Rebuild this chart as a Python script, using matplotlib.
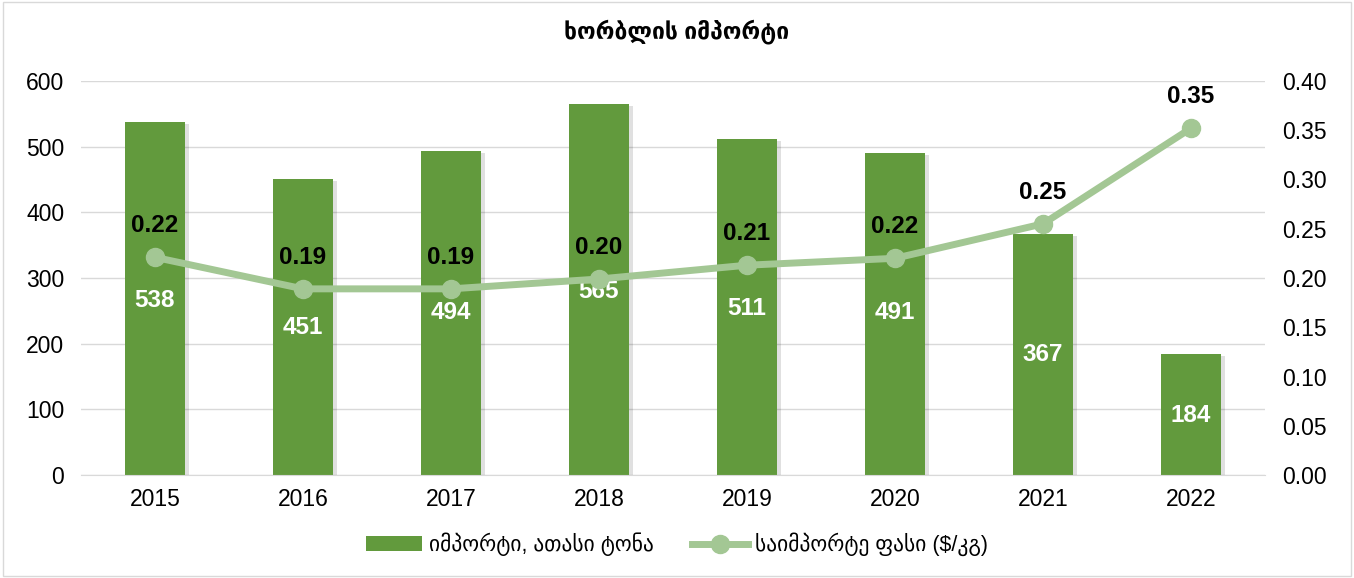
import matplotlib
matplotlib.use("Agg")
import matplotlib.pyplot as plt
import matplotlib.patheffects as pe
from matplotlib.lines import Line2D
from matplotlib.patches import Patch, Rectangle

years = ["2015", "2016", "2017", "2018", "2019", "2020", "2021", "2022"]
imports_kt = [538, 451, 494, 565, 511, 491, 367, 184]
price = [0.221, 0.189, 0.189, 0.199, 0.213, 0.220, 0.255, 0.352]
price_labels = ["0.22", "0.19", "0.19", "0.20", "0.21", "0.22", "0.25", "0.35"]
left_ticks = [0, 100, 200, 300, 400, 500, 600]
right_ticks = [0.0, 0.05, 0.10, 0.15, 0.20, 0.25, 0.30, 0.35, 0.40]

title = "ხორბლის იმპორტი"
bar_name = "იმპორტი, ათასი ტონა"
line_name = "საიმპორტე ფასი ($/კგ)"

bar_color = "#629A3D"
line_color = "#A3C794"

plt.rcParams["font.family"] = ["Liberation Sans", "DejaVu Sans"]

fig = plt.figure(figsize=(13.54, 5.78), dpi=100)
fig.patches.append(Rectangle((0.002, 0.003), 0.996, 0.994, transform=fig.transFigure,
                             fill=False, edgecolor="#D9D9D9", linewidth=1))
ax = fig.add_axes([0.0598, 0.178, 0.8745, 0.682])
ax2 = ax.twinx()

x = list(range(len(years)))
shadow = [pe.SimplePatchShadow(offset=(2.5, -1.5), shadow_rgbFace="#000000", alpha=0.12), pe.Normal()]
bars = ax.bar(x, imports_kt, width=0.41, color=bar_color, zorder=2)
for b in bars:
    b.set_path_effects(shadow)

ax.set_ylim(0, 600)
ax.set_yticks(left_ticks)
ax.set_xlim(-0.5, len(years) - 0.5)
ax.set_xticks(x)
ax.set_xticklabels(years)
ax.grid(axis="y", color="#D9D9D9", linewidth=1, zorder=0)
ax.set_axisbelow(True)
for s in ["top", "right", "left"]:
    ax.spines[s].set_visible(False)
ax.spines["bottom"].set_color("#D9D9D9")
ax.tick_params(axis="x", length=0, labelsize=16.5, colors="black", pad=9)
ax.tick_params(axis="y", length=0, labelsize=16.5, colors="black", pad=12)

bar_label_pos = [266, 225, 248, 280, 254, 247, 183, 91]
for xi, v, yp in zip(x, imports_kt, bar_label_pos):
    ax.text(xi, yp, str(v), ha="center", va="center", color="white",
            fontsize=17.5, fontweight="bold", zorder=5)

ax2.plot(x, price, color=line_color, linewidth=5, marker="o", markersize=13,
         zorder=4, solid_capstyle="round")
ax2.set_ylim(0, 0.40)
ax2.set_yticks(right_ticks)
ax2.set_yticklabels([f"{t:.2f}" for t in right_ticks])
for s in ["top", "right", "left", "bottom"]:
    ax2.spines[s].set_visible(False)
ax2.tick_params(axis="y", length=0, labelsize=16.5, colors="black", pad=12)
for xi, p, lab in zip(x, price, price_labels):
    ax2.text(xi, p + 0.032, lab, ha="center", va="center", color="black",
             fontsize=17.5, fontweight="bold", zorder=6)

fig.text(0.5, 0.945, title, ha="center", va="center", fontsize=16.5, fontweight="bold")

handles = [Patch(facecolor=bar_color, edgecolor="none"),
           Line2D([0], [0], color=line_color, linewidth=5, marker="o", markersize=13)]
fig.legend(handles, [bar_name, line_name], loc="center", bbox_to_anchor=(0.5, 0.058),
           ncol=2, frameon=False, fontsize=15.5, handlelength=2.6, columnspacing=1.8,
           handletextpad=0.3)

fig.savefig("out.png", dpi=100)
